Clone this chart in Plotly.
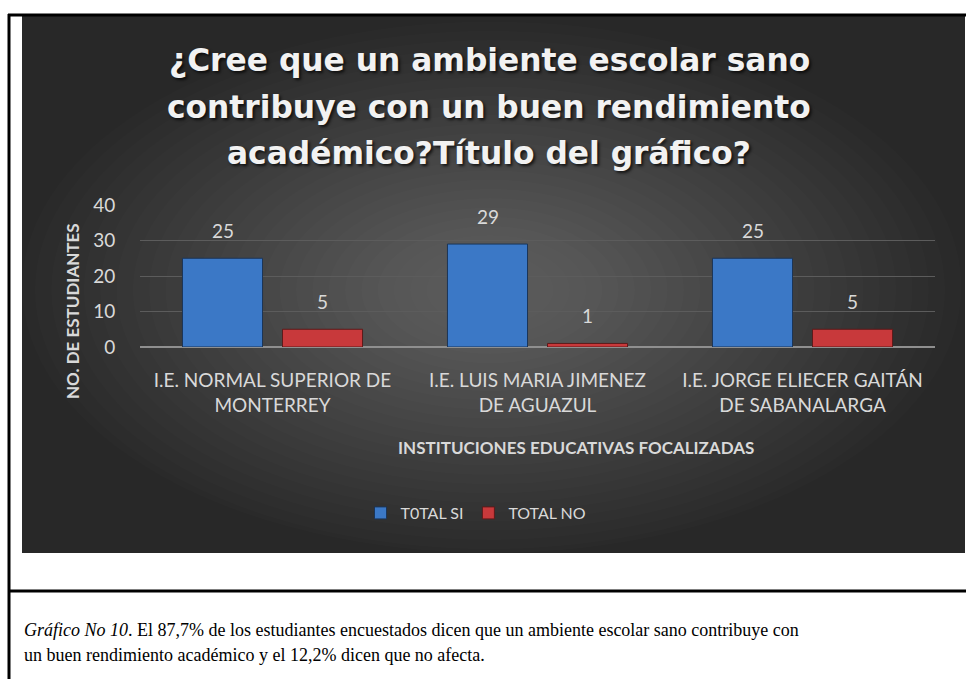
import plotly.graph_objects as go

W, H = 966, 679
# plot area in pixels
PL, PR, PT, PB = 140, 935, 205, 347

CATEGORIES = [
    "I.E. NORMAL SUPERIOR DE<br>MONTERREY",
    "I.E. LUIS MARIA JIMENEZ<br>DE AGUAZUL",
    "I.E. JORGE ELIECER GAITÁN<br>DE SABANALARGA",
]
TOTAL_SI = [25, 29, 25]
TOTAL_NO = [5, 1, 5]
SERIES_NAMES = ["T0TAL SI", "TOTAL NO"]
Y_TICKS = [0, 10, 20, 30, 40]

TITLE_LINES = [
    "¿Cree que un ambiente escolar sano",
    "contribuye con un buen rendimiento",
    "académico?Título del gráfico?",
]
CAPTION_LINES = [
    "<i>Gráfico No 10</i>. El 87,7% de los estudiantes encuestados dicen que un ambiente escolar sano contribuye con",
    "un buen rendimiento académico y el 12,2% dicen que no afecta.",
]

LABEL_FONT = "Lato, 'Open Sans', sans-serif"
LIGHT = "#d9d9d9"


def px(x):
    return (x - PL) / (PR - PL)


def py(y):
    return (PB - y) / (PB - PT)


def note(x, y, text, font, **kw):
    fig.add_annotation(x=px(x), y=py(y), xref="paper", yref="paper", text=text,
                       showarrow=False, xanchor=kw.pop("xanchor", "center"),
                       yanchor="middle", font=font, **kw)


fig = go.Figure()
fig.add_trace(go.Bar(
    x=CATEGORIES, y=TOTAL_SI, name=SERIES_NAMES[0],
    marker=dict(color="#3b78c6", line=dict(color="#1b3558", width=1)),
))
fig.add_trace(go.Bar(
    x=CATEGORIES, y=TOTAL_NO, name=SERIES_NAMES[1],
    marker=dict(color="#c8393b", line=dict(color="#5e1a1a", width=1)),
))

# data labels above bars
for vals, shift in ((TOTAL_SI, -50), (TOTAL_NO, 50)):
    for cat, v in zip(CATEGORIES, vals):
        fig.add_annotation(x=cat, y=v, xref="x", yref="y", text=str(v), showarrow=False,
                           xshift=shift, yshift=14, yanchor="bottom",
                           font=dict(family=LABEL_FONT, size=19, color=LIGHT))

shapes = []
# dark chart background with a soft radial light in the middle
x0, y0, x1, y1 = 22, 16, 965, 553
shapes.append(dict(type="rect", xref="paper", yref="paper", layer="below",
                   x0=px(x0), x1=px(x1), y0=py(y1), y1=py(y0),
                   fillcolor="#282828", line=dict(width=0)))
cx, cy = 490, 290
n = 26
for i in range(n):
    f = 1 - i * 0.9 / n
    hw, hh = (x1 - x0) / 2 * f, (y1 - y0) / 2 * f
    shapes.append(dict(type="circle", xref="paper", yref="paper", layer="below",
                       x0=px(max(x0, cx - hw)), x1=px(min(x1, cx + hw)),
                       y0=py(min(y1, cy + hh)), y1=py(max(y0, cy - hh)),
                       fillcolor="rgba(255,255,255,0.011)", line=dict(width=0)))
# document table borders
for (ax, ay, bx, by) in [(9, 14, 9, H + 5), (8, 15, W + 5, 15), (8, 591, W + 5, 591)]:
    shapes.append(dict(type="line", xref="paper", yref="paper",
                       x0=px(ax), x1=px(bx), y0=py(ay), y1=py(by),
                       line=dict(color="black", width=3)))

# axis titles
note(72, 311, "<b>NO. DE ESTUDIANTES</b>", dict(family=LABEL_FONT, size=17, color=LIGHT), textangle=-90)
note(576, 447, "<b>INSTITUCIONES EDUCATIVAS FOCALIZADAS</b>", dict(family=LABEL_FONT, size=17, color=LIGHT))
# title
for line, yy in zip(TITLE_LINES, (60, 107, 153)):
    note(489, yy, "<b>" + line + "</b>",
         dict(family="DejaVu Sans", size=31.3, color="#f2f2f2", shadow="2px 2px 3px rgba(0,0,0,0.7)"))
# caption below the chart
for text, yy in zip(CAPTION_LINES, (630, 655)):
    note(22, yy, text, dict(family="Liberation Serif, Times New Roman, serif", size=18, color="black"),
         xanchor="left")

fig.update_layout(
    width=W, height=H,
    margin=dict(l=PL, r=W - PR, t=PT, b=H - PB, pad=0),
    paper_bgcolor="white", plot_bgcolor="rgba(0,0,0,0)",
    barmode="group", bargap=0.245, bargroupgap=0.2,
    shapes=shapes,
    showlegend=True,
    legend=dict(orientation="h", x=px(476), y=py(513), xanchor="center", yanchor="middle",
                font=dict(family=LABEL_FONT, size=16, color=LIGHT), bgcolor="rgba(0,0,0,0)",
                itemclick=False),
    xaxis=dict(showgrid=False, showline=False, ticks="outside", ticklen=16,
               tickcolor="rgba(0,0,0,0)", tickfont=dict(family=LABEL_FONT, size=19, color=LIGHT)),
    yaxis=dict(range=[0, 40], tickvals=Y_TICKS, showgrid=True, gridcolor="#5c5c5c", gridwidth=1,
               zeroline=True, zerolinecolor="#8f8f8f", zerolinewidth=2, showline=False,
               ticks="outside", ticklen=20, tickcolor="rgba(0,0,0,0)",
               tickfont=dict(family=LABEL_FONT, size=19, color=LIGHT)),
)

fig.write_html("out.html", config={"displayModeBar": False},
               post_script="document.body.style.margin='0';")
